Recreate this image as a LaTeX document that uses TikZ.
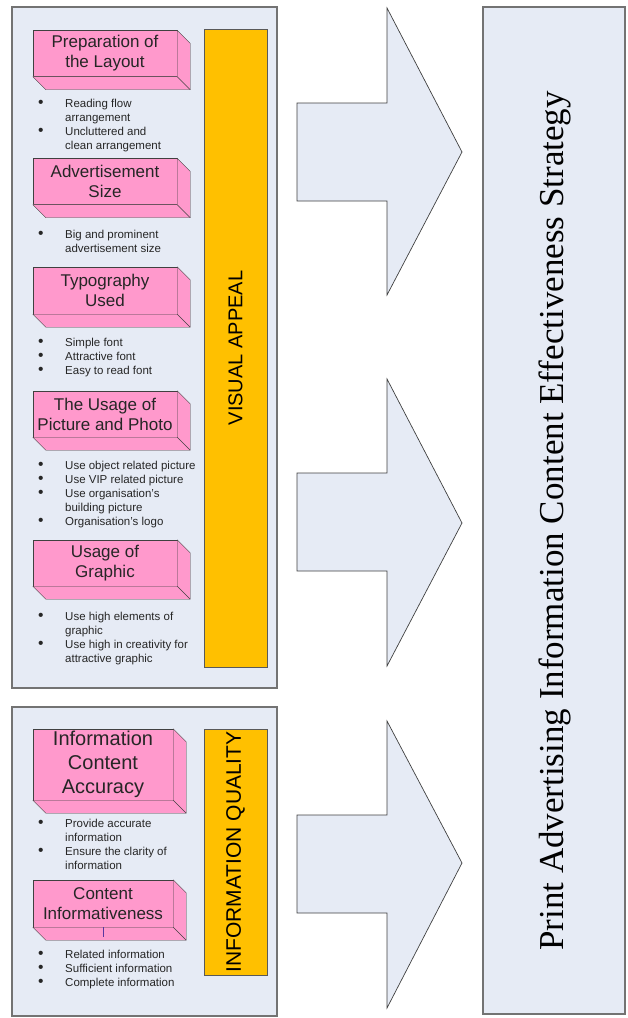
\documentclass[tikz,border=0pt]{standalone}
\usepackage{fontspec}
\setmainfont{Liberation Sans}
\newfontfamily\strategyfont{Liberation Serif}
\usetikzlibrary{calc}

\definecolor{panelblue}{HTML}{E6EBF5}
\definecolor{boxpink}{HTML}{FF99CC}
\definecolor{baryellow}{HTML}{FFC000}

\tikzset{
	panel/.style={draw=black!55, line width=1.3pt, fill=panelblue},
	factorbox/.style={draw=black!75, fill=boxpink, minimum width=144pt, minimum height=46pt,
		inner sep=0pt, align=center, text=black!85, font=\fontsize{17}{20}\selectfont},
	boxedge/.style={draw=black!75, fill=boxpink, line join=round},
	sidebar/.style={draw=black!65, fill=baryellow, line width=0.9pt},
	blockarrow/.style={draw=black!75, fill=panelblue, line width=0.7pt},
	itemlist/.style={anchor=base west, inner sep=0pt, text=black!85, font=\fontsize{11.5}{14}\selectfont},
}

% depth of the pink boxes
\newcommand{\extrude}[1]{%
	\draw[boxedge] (#1.north east) -- ++(13,13) |- ([shift={(13,13)}]#1.south west)
		-- (#1.south west) -- (#1.south east) -- cycle;
	\draw[boxedge] (#1.south east) -- ++(13,13);}
\newcommand{\bul}{\scalebox{1.35}{\textbullet}}

\begin{document}
\begin{tikzpicture}[x=1pt,y=-1pt]
	\useasboundingbox (0,0) rectangle (627,1018);

	% panels
	\draw[panel] (12,7) rectangle (277,688);
	\draw[panel] (12,707) rectangle (277,1016);
	\draw[panel] (483,7) rectangle (625,1014);

	% yellow bars
	\draw[sidebar] (204,29) rectangle (267,667);
	\draw[sidebar] (204,729) rectangle (267,975);
	\node[rotate=90, font=\fontsize{20}{24}\selectfont] (visual) at (235.5,348) {VISUAL APPEAL};
	\node[rotate=90, font=\fontsize{21}{24}\selectfont] (quality) at (235.5,852) {INFORMATION QUALITY};

	% big arrows
	\foreach \top/\tip/\bot/\st/\sb in {8/152/295/103/201, 379/523/666/473/571, 721/863/1008/815/913}
		\draw[blockarrow] (297,\st) -- (387,\st) -- (387,\top) -- (462,\tip)
			-- (387,\bot) -- (387,\sb) -- (297,\sb) -- cycle;

	\node[rotate=90, font=\strategyfont\fontsize{35}{40}\selectfont] (strategy) at (555,521)
		{Print Advertising Information Content Effectiveness Strategy};

	% visual appeal
	\node[factorbox] (layout) at (105,53.5) {Preparation of\\the Layout};
	\extrude{layout}
	\node[itemlist] (layout-list) at (38,107) {\begin{tabular}[t]{@{}p{27pt}@{}l@{}}
		\bul & Reading flow\\ & arrangement\\ \bul & Uncluttered and\\ & clean arrangement\end{tabular}};

	\node[factorbox] (size) at (105,181.5) {Advertisement\\Size};
	\extrude{size}
	\node[itemlist] (size-list) at (38,238) {\begin{tabular}[t]{@{}p{27pt}@{}l@{}}
		\bul & Big and prominent\\ & advertisement size\end{tabular}};

	\node[factorbox, minimum height=47pt] (typo) at (105,290.5) {Typography\\Used};
	\extrude{typo}
	\node[itemlist] (typo-list) at (38,346) {\begin{tabular}[t]{@{}p{27pt}@{}l@{}}
		\bul & Simple font\\ \bul & Attractive font\\ \bul & Easy to read font\end{tabular}};

	\node[factorbox] (photo) at (105,414) {The Usage of\\Picture and Photo};
	\extrude{photo}
	\node[itemlist] (photo-list) at (38,469) {\begin{tabular}[t]{@{}p{27pt}@{}l@{}}
		\bul & Use object related picture\\ \bul & Use VIP related picture\\
		\bul & Use organisation's\\ & building picture\\ \bul & Organisation's logo\end{tabular}};

	\node[factorbox] (graphic) at (105,563) {Usage of\\Graphic};
	\extrude{graphic}
	\node[itemlist] (graphic-list) at (38,620) {\begin{tabular}[t]{@{}p{27pt}@{}l@{}}
		\bul & Use high elements of\\ & graphic\\ \bul & Use high in creativity for\\ & attractive graphic\end{tabular}};

	% information quality
	\node[factorbox, minimum width=140pt, minimum height=71pt, font=\fontsize{20}{24}\selectfont]
		(accuracy) at (103,764.5) {Information\\Content\\Accuracy};
	\extrude{accuracy}
	\node[itemlist] (accuracy-list) at (38,827) {\begin{tabular}[t]{@{}p{27pt}@{}l@{}}
		\bul & Provide accurate\\ & information\\ \bul & Ensure the clarity of\\ & information\end{tabular}};

	\node[factorbox, minimum width=140pt, minimum height=47pt] (informative) at (103,903.5)
		{Content\\Informativeness};
	\extrude{informative}
	\draw[blue!50!boxpink!70!black] (informative.south) -- ++(0,10);
	\node[itemlist] (informative-list) at (38,958) {\begin{tabular}[t]{@{}p{27pt}@{}l@{}}
		\bul & Related information\\ \bul & Sufficient information\\ \bul & Complete information\end{tabular}};
\end{tikzpicture}
\end{document}
